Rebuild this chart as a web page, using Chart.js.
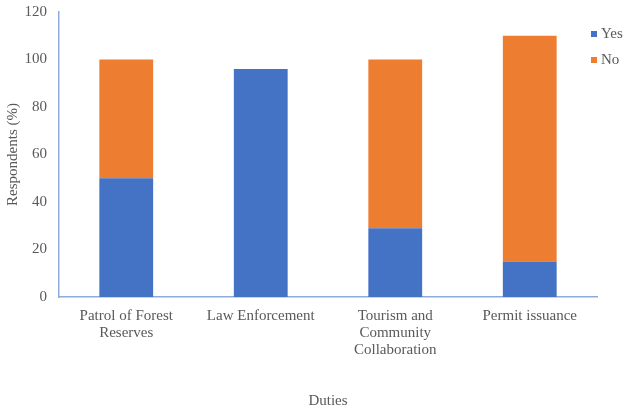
<!DOCTYPE html>
<html>
<meta charset="utf-8">
<head>
    <title>Duties</title>
    <script src="https://cdn.jsdelivr.net/npm/chart.js@4.4.0/dist/chart.umd.min.js"></script>
    <style>
    body {
        margin: 0;
        background: #fff;
    }
    .wrap {
        position: relative;
        width: 630px;
        height: 410px;
    }
    #legenda {
        position: absolute;
        left: 591px;
        top: 23px;
        font-family: "Liberation Serif", "Times New Roman", serif;
        font-size: 15px;
        color: #595959;
    }
    #legenda div {
        height: 26px;
        line-height: 20px;
        white-space: nowrap;
    }
    #legenda span {
        display: inline-block;
        width: 6px;
        height: 6px;
        margin-right: 4px;
        vertical-align: 1px;
    }
    </style>
</head>

<body>
    <div class="wrap">
        <canvas id="duties"></canvas>
        <div id="legenda"></div>
    </div>

    <script>
        // dados
        var categorias = [
            ["Patrol of Forest", "Reserves"],
            ["Law Enforcement"],
            ["Tourism and", "Community", "Collaboration"],
            ["Permit issuance"]
        ];
        var seriesNomes = ["Yes", "No"];
        var yesValores = [50, 96, 29, 15];
        var noValores = [50, 0, 71, 95];
        var yTicks = [0, 20, 40, 60, 80, 100, 120];

        var cores = ['#4472C4', '#ED7D31'];
        var corTexto = '#595959';
        var fonte = '"Liberation Serif", "Times New Roman", serif';

        var dados = {
            labels: categorias,
            datasets: [{
                label: seriesNomes[0],
                backgroundColor: cores[0],
                data: yesValores,
                barPercentage: 0.8,
                categoryPercentage: 0.5
            }, {
                label: seriesNomes[1],
                backgroundColor: cores[1],
                data: noValores,
                barPercentage: 0.8,
                categoryPercentage: 0.5
            }]
        };

        // legenda em html
        var leg = document.getElementById('legenda');
        seriesNomes.forEach(function (nome, i) {
            var d = document.createElement('div');
            var s = document.createElement('span');
            s.style.background = cores[i];
            d.appendChild(s);
            d.appendChild(document.createTextNode(nome));
            leg.appendChild(d);
        });

        var eixo = '#8FAADC';

        new Chart(document.getElementById('duties'), {
            type: 'bar',
            data: dados,
            options: {
                responsive: true,
                maintainAspectRatio: false,
                animation: false,
                layout: {
                    padding: { top: 12, right: 33, bottom: 0, left: 0 }
                },
                plugins: {
                    legend: { display: false },
                    tooltip: { enabled: false }
                },
                scales: {
                    x: {
                        stacked: true,
                        afterFit: function (axis) {
                            axis.height = 113;
                            axis.paddingLeft = 0;
                            axis.paddingRight = 0;
                        },
                        grid: { display: false, drawTicks: false },
                        border: { color: eixo, width: 1.5 },
                        ticks: {
                            color: corTexto,
                            padding: 11,
                            maxRotation: 0,
                            autoSkip: false,
                            font: { family: fonte, size: 15, lineHeight: 1.13 }
                        },
                        title: {
                            display: true,
                            text: 'Duties',
                            color: corTexto,
                            font: { family: fonte, size: 15, lineHeight: 1.2 },
                            padding: { top: 0, bottom: 0 }
                        }
                    },
                    y: {
                        stacked: true,
                        min: 0,
                        max: 120,
                        afterFit: function (axis) {
                            axis.width = 59;
                            axis.paddingTop = 0;
                            axis.paddingBottom = 0;
                        },
                        afterBuildTicks: function (axis) {
                            axis.ticks = yTicks.map(function (v) { return { value: v }; });
                        },
                        grid: { display: false, drawTicks: false },
                        border: { color: eixo, width: 1.5 },
                        ticks: {
                            color: corTexto,
                            padding: 12,
                            font: { family: fonte, size: 15 }
                        },
                        title: {
                            display: true,
                            text: 'Respondents (%)',
                            color: corTexto,
                            font: { family: fonte, size: 15, lineHeight: 1.2 },
                            padding: { top: 4, bottom: 4 }
                        }
                    }
                }
            }
        });
    </script>
</body>

</html>
